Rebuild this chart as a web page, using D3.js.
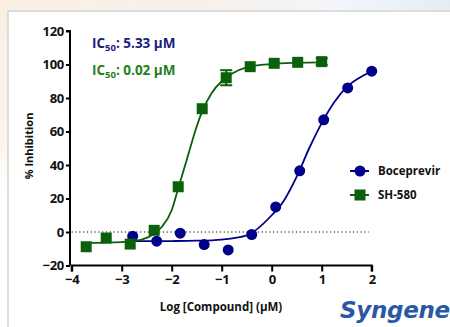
<!DOCTYPE html>
<html>
<head>
<meta charset="utf-8">
<script src="https://cdn.jsdelivr.net/npm/d3@7"></script>
<style>
  body { margin: 0; background: #fff; }
  svg text { font-family: "Open Sans", sans-serif; }
</style>
</head>
<body>
<div id="chart"></div>
<script>
// log10 concentration (uM) and % inhibition
const bocX = [-2.78, -2.30, -1.83, -1.35, -0.87, -0.40, 0.08, 0.56, 1.04, 1.52, 2.00];
const bocY = [-2.5, -5.5, -0.7, -7.5, -10.7, -1.5, 15.0, 36.5, 67.0, 86.0, 96.0];

const shX = [-3.71, -3.31, -2.83, -2.35, -1.87, -1.39, -0.91, -0.43, 0.05, 0.52, 1.00];
const shY = [-8.8, -3.6, -7.2, 1.0, 27.0, 73.6, 92.1, 98.7, 100.7, 101.3, 101.7];
const shErr = [0, 0, 0, 0, 0, 0, 4.5, 0, 0, 0, 2.0];

// fitted curves
const bocFitX = [-2.78, -2.0, -1.5, -1.0, -0.5, 0.0, 0.25, 0.5, 0.75, 1.0, 1.25, 1.5, 1.75, 2.0];
const bocFitY = [-5.5, -5.4, -5.2, -4.5, -2.0, 10.0, 19.0, 33.0, 50.0, 65.0, 77.5, 86.5, 92.0, 96.0];
const shFitX = [-3.71, -3.0, -2.6, -2.35, -2.2, -2.0, -1.87, -1.7, -1.5, -1.39, -1.2, -1.0, -0.8, -0.5, 0.0, 0.5, 1.0];
const shFitY = [-6.5, -6.0, -4.5, -1.0, 3.0, 13.0, 26.0, 43.0, 63.0, 72.0, 83.0, 90.0, 94.5, 98.3, 100.3, 101.0, 101.3];

const xTicks = [-4, -3, -2, -1, 0, 1, 2];
const yTicks = [-20, 0, 20, 40, 60, 80, 100, 120];
const seriesNames = ['Boceprevir', 'SH-580'];

const navy = '#00008b', green = '#0b600b';

const svg = d3.select('#chart').append('svg')
    .attr('width', 450).attr('height', 327);

// page background bits
const defs = svg.append('defs');
const tg = defs.append('linearGradient').attr('id', 'topg');
tg.append('stop').attr('offset', '0%').attr('stop-color', '#fbefe3');
tg.append('stop').attr('offset', '55%').attr('stop-color', '#f5f1ee');
tg.append('stop').attr('offset', '75%').attr('stop-color', '#f3f6fa');
tg.append('stop').attr('offset', '100%').attr('stop-color', '#e5ecf4');
const lg = defs.append('linearGradient').attr('id', 'leftg')
    .attr('x1', 0).attr('x2', 0).attr('y1', 0).attr('y2', 1);
lg.append('stop').attr('offset', '0%').attr('stop-color', '#fbefe3');
lg.append('stop').attr('offset', '40%').attr('stop-color', '#fcf3ea');
lg.append('stop').attr('offset', '60%').attr('stop-color', '#ffffff');

svg.append('rect').attr('x', 0).attr('y', 0).attr('width', 450).attr('height', 11).attr('fill', 'url(#topg)');
svg.append('rect').attr('x', 0).attr('y', 0).attr('width', 8).attr('height', 327).attr('fill', 'url(#leftg)');
svg.append('rect').attr('x', 8).attr('y', 11).attr('width', 450).attr('height', 330)
    .attr('fill', '#fff').attr('stroke', '#dcdcdc').attr('stroke-width', 2);

const x = d3.scaleLinear().domain([-4, 2]).range([71.7, 371.7]);
const y = d3.scaleLinear().domain([-20, 120]).range([265.5, 31]);

// zero line
svg.append('line')
    .attr('x1', x(-4)).attr('x2', x(2) - 3)
    .attr('y1', y(0)).attr('y2', y(0))
    .attr('stroke', '#000').attr('stroke-width', 1.2)
    .attr('stroke-dasharray', '1.2,2.6');

// axes
const yAxis = svg.append('g').attr('transform', 'translate(70,0)')
    .call(d3.axisLeft(y).tickValues(yTicks).tickSize(4).tickPadding(2).tickFormat(d3.format('d')));
const xAxis = svg.append('g').attr('transform', `translate(0,${y(-20)})`)
    .call(d3.axisBottom(x).tickValues(xTicks).tickSize(6).tickPadding(3).tickFormat(d3.format('d')));

[xAxis, yAxis].forEach(g => {
    g.select('.domain').attr('stroke-width', 2).attr('stroke', '#000');
    g.selectAll('.tick line').attr('stroke-width', 2).attr('stroke', '#000');
    g.selectAll('.tick text').attr('font-size', 13).attr('font-weight', 'bold')
        .attr('fill', '#111').style('font-family', '"Open Sans", sans-serif')
        .attr('letter-spacing', -0.3);
});
yAxis.select('.domain').attr('d', `M-4,${y(120)}H0V${y(-20)}`);
xAxis.select('.domain').attr('d', `M${x(-4)},6V0H${x(2)}V6`);

svg.append('text')
    .attr('x', 221).attr('y', 311)
    .attr('text-anchor', 'middle')
    .attr('font-size', 11.5).attr('font-weight', 'bold').attr('fill', '#111')
    .text('Log [Compound] (µM)');

svg.append('text')
    .attr('transform', 'translate(33,146) rotate(-90)')
    .attr('text-anchor', 'middle')
    .attr('font-size', 11).attr('font-weight', 'bold').attr('fill', '#111')
    .text('% Inhibition');

// IC50 labels
const ic = [{ v: '5.33', c: '#1b1b80', yy: 48 }, { v: '0.02', c: '#1f7f1f', yy: 75 }];
ic.forEach(d => {
    const t = svg.append('text').attr('x', 92).attr('y', d.yy)
        .attr('font-size', 13.5).attr('font-weight', 'bold').attr('fill', d.c);
    t.append('tspan').text('IC');
    t.append('tspan').attr('font-size', 9.5).attr('dy', 3).text('50');
    t.append('tspan').attr('dy', -3).text(`: ${d.v} µM`);
});

const line = d3.line().x(d => x(d[0])).y(d => y(d[1])).curve(d3.curveMonotoneX);

svg.append('path').datum(d3.zip(bocFitX, bocFitY))
    .attr('d', line).attr('fill', 'none').attr('stroke', navy).attr('stroke-width', 1.8);
svg.append('path').datum(d3.zip(shFitX, shFitY))
    .attr('d', line).attr('fill', 'none').attr('stroke', green).attr('stroke-width', 1.8);

// error bars
const shPts = shX.map((v, i) => ({ x: v, y: shY[i], e: shErr[i] }));
const eb = svg.append('g').selectAll('g').data(shPts.filter(d => d.e > 0)).enter().append('g')
    .attr('stroke', green).attr('stroke-width', 2);
eb.append('line').attr('x1', d => x(d.x)).attr('x2', d => x(d.x))
    .attr('y1', d => y(d.y + d.e)).attr('y2', d => y(d.y - d.e));
eb.append('line').attr('x1', d => x(d.x) - 6).attr('x2', d => x(d.x) + 6)
    .attr('y1', d => y(d.y + d.e)).attr('y2', d => y(d.y + d.e));
eb.append('line').attr('x1', d => x(d.x) - 6).attr('x2', d => x(d.x) + 6)
    .attr('y1', d => y(d.y - d.e)).attr('y2', d => y(d.y - d.e));

// markers
svg.append('g').selectAll('circle').data(d3.zip(bocX, bocY)).enter().append('circle')
    .attr('cx', d => x(d[0])).attr('cy', d => y(d[1])).attr('r', 5.5).attr('fill', navy);
svg.append('g').selectAll('rect').data(shPts).enter().append('rect')
    .attr('x', d => x(d.x) - 5.5).attr('y', d => y(d.y) - 5.5)
    .attr('width', 11).attr('height', 11).attr('fill', green);

// legend
const leg = svg.append('g').selectAll('g').data(seriesNames).enter().append('g')
    .attr('transform', (d, i) => `translate(360,${171 + i * 24})`);
leg.append('line').attr('x1', -10).attr('x2', 9).attr('stroke', (d, i) => i ? green : navy).attr('stroke-width', 2);
leg.filter((d, i) => i === 0).append('circle').attr('r', 5.5).attr('fill', navy);
leg.filter((d, i) => i === 1).append('rect').attr('x', -5.5).attr('y', -5.5)
    .attr('width', 11).attr('height', 11).attr('fill', green);
leg.append('text').attr('x', 18).attr('dy', '0.35em')
    .attr('font-size', 11.5).attr('font-weight', 'bold').attr('fill', '#111')
    .text(d => d);

// logo
svg.append('text').attr('x', 340).attr('y', 318)
    .attr('font-size', 23).attr('font-style', 'italic').attr('font-weight', 700)
    .attr('fill', '#2b58a6').style('font-family', '"DejaVu Sans", sans-serif')
    .attr('letter-spacing', -0.3)
    .text('Syngene');
</script>
</body>
</html>
